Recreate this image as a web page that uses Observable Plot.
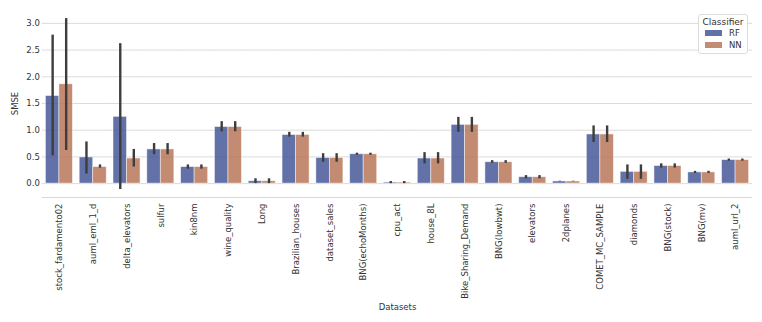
<!DOCTYPE html>
<html>
<head>
<meta charset="utf-8">
<script src="https://cdn.jsdelivr.net/npm/d3@7"></script>
<script src="https://cdn.jsdelivr.net/npm/@observablehq/plot@0.6"></script>
<style>
  html, body { margin: 0; padding: 0; background: #fff; }
  #wrap { position: relative; width: 762px; height: 322px; font-family: "DejaVu Sans", sans-serif; }
  #legend { position: absolute; left: 698px; top: 14px; width: 50px; height: 40px; box-sizing: border-box;
    border: 1px solid #dcdcdc; border-radius: 3px; background: rgba(255,255,255,0.85); color: #333; }
  #legend .title { font-size: 9px; text-align: center; margin-top: 2px; }
  #legend .item { display: flex; align-items: center; font-size: 8.5px; height: 12px; }
  #legend .sw { width: 17px; height: 6px; margin-left: 6px; margin-right: 7px; }
</style>
</head>
<body>
<div id="wrap"></div>
<script>
const datasets = ["stock_fardamento02","auml_eml_1_d","delta_elevators","sulfur","kin8nm","wine_quality","Long","Brazilian_houses","dataset_sales","BNG(echoMonths)","cpu_act","house_8L","Bike_Sharing_Demand","BNG(lowbwt)","elevators","2dplanes","COMET_MC_SAMPLE","diamonds","BNG(stock)","BNG(mv)","auml_url_2"];
const classifiers = ["RF", "NN"];
const rfMean = [1.64, 0.49, 1.25, 0.64, 0.31, 1.06, 0.045, 0.91, 0.48, 0.55, 0.02, 0.47, 1.10, 0.40, 0.12, 0.04, 0.92, 0.22, 0.33, 0.21, 0.44];
const rfLow  = [0.52, 0.18, -0.11, 0.54, 0.27, 0.97, 0.00, 0.87, 0.40, 0.53, 0.00, 0.37, 0.96, 0.38, 0.09, 0.035, 0.77, 0.08, 0.29, 0.19, 0.42];
const rfHigh = [2.78, 0.78, 2.62, 0.75, 0.35, 1.16, 0.09, 0.96, 0.56, 0.57, 0.04, 0.58, 1.24, 0.43, 0.15, 0.045, 1.08, 0.35, 0.37, 0.23, 0.46];
const nnMean = [1.86, 0.31, 0.47, 0.64, 0.31, 1.06, 0.045, 0.91, 0.48, 0.55, 0.02, 0.47, 1.10, 0.40, 0.12, 0.04, 0.92, 0.22, 0.33, 0.21, 0.44];
const nnLow  = [0.62, 0.29, 0.31, 0.54, 0.27, 0.97, 0.00, 0.87, 0.40, 0.53, 0.00, 0.37, 0.96, 0.38, 0.09, 0.035, 0.77, 0.08, 0.29, 0.19, 0.42];
const nnHigh = [3.09, 0.35, 0.64, 0.75, 0.35, 1.16, 0.09, 0.96, 0.56, 0.57, 0.04, 0.58, 1.24, 0.43, 0.15, 0.045, 1.08, 0.35, 0.37, 0.23, 0.46];
const yTicks = [0, 0.5, 1.0, 1.5, 2.0, 2.5, 3.0];
const colors = ["#3b4f92", "#b46e4f"];

const rows = [];
datasets.forEach((d, i) => {
  rows.push({dataset: d, classifier: "RF", mean: rfMean[i], low: rfLow[i], high: rfHigh[i]});
  rows.push({dataset: d, classifier: "NN", mean: nnMean[i], low: nnLow[i], high: nnHigh[i]});
});

const W = 762, H = 322, mL = 42, mR = 10, mT = 9, mB = 125;
const padInner = 0.2;
const step = (W - mL - mR) / (datasets.length - padInner + 2 * 0.1);
const halfGap = step * padInner / 2 + 0.3;

const chart = Plot.plot({
  width: W,
  height: H,
  marginLeft: mL,
  marginRight: mR,
  marginTop: mT,
  marginBottom: mB,
  facet: {marginLeft: mL, marginRight: mR, marginTop: mT, marginBottom: mB},
  style: {fontFamily: "DejaVu Sans", fontSize: "8.5px", color: "#333", background: "transparent"},
  fx: {domain: datasets, paddingInner: padInner, paddingOuter: 0.1, round: false, axis: "bottom", label: "Datasets",
       tickRotate: -90, tickSize: 0, tickPadding: 6, labelAnchor: "center", labelOffset: 112, labelArrow: "none"},
  x: {domain: classifiers, axis: null, padding: 0, round: false},
  y: {domain: [-0.26, 3.26], ticks: yTicks, tickFormat: ".1f", tickSize: 0, tickPadding: 6,
      label: "SMSE", labelAnchor: "center", labelOffset: 34, labelArrow: "none"},
  color: {domain: classifiers, range: colors},
  marks: [
    Plot.ruleY(yTicks, {y: d => d, stroke: "#dcdcdc", strokeWidth: 1, strokeOpacity: 1, insetLeft: -halfGap, insetRight: -halfGap}),
    Plot.ruleY([-0.26], {y: d => d, stroke: "#d8d8d8", strokeWidth: 1, insetLeft: -halfGap, insetRight: -halfGap}),
    Plot.barY(rows, {fx: "dataset", x: "classifier", y: "mean", fill: "classifier", fillOpacity: 0.8,
      stroke: "#ffffff", strokeOpacity: 0.6, strokeWidth: 0.8}),
    Plot.ruleX(rows, {fx: "dataset", x: "classifier", y1: "low", y2: "high", stroke: "#3d3d3d", strokeWidth: 2.4})
  ]
});
document.getElementById("wrap").appendChild(chart);

const legend = document.createElement("div");
legend.id = "legend";
legend.innerHTML = `<div class="title">Classifier</div>` +
  classifiers.map((c, i) => `<div class="item"><div class="sw" style="background:${colors[i]};opacity:0.8"></div>${c}</div>`).join("");
document.getElementById("wrap").appendChild(legend);
</script>
</body>
</html>
